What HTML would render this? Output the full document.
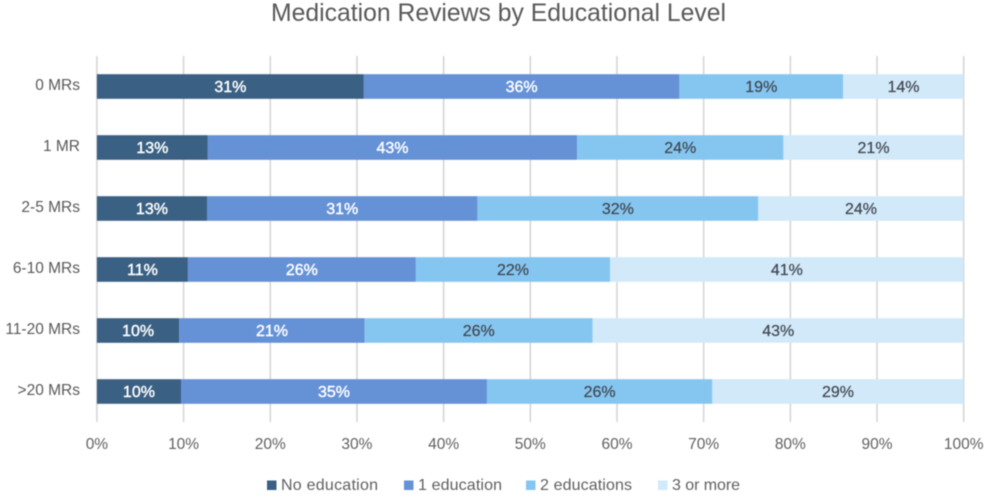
<!DOCTYPE html>
<html lang="en">
<head>
<meta charset="utf-8">
<title>Medication Reviews by Educational Level</title>
<style>
html,body{margin:0;padding:0;background:#fff;}
body{width:989px;height:496px;overflow:hidden;}
svg{display:block;font-family:"Liberation Sans",sans-serif;}
</style>
</head>
<body>
<svg id="chart" width="989" height="496" viewBox="0 0 989 496" xmlns="http://www.w3.org/2000/svg">
<g id="content" style="filter:blur(0.45px)">
<text x="498.5" y="21" text-anchor="middle" font-size="25" fill="#595959" textLength="455" lengthAdjust="spacingAndGlyphs">Medication Reviews by Educational Level</text>
<g id="grid"></g>
<g id="bars"></g>
<g id="ylabels"></g>
<g id="xlabels"></g>
<g id="legend"></g>
</g>
</svg>
<script>
const categories = ['0 MRs', '1 MR', '2-5 MRs', '6-10 MRs', '11-20 MRs', '>20 MRs'];
const seriesNames = ['No education', '1 education', '2 educations', '3 or more'];
const noEducation = [30.8, 12.8, 12.7, 10.5, 9.5, 9.7];
const oneEducation = [36.4, 42.6, 31.2, 26.3, 21.4, 35.3];
const twoEducations = [18.9, 23.8, 32.4, 22.4, 26.3, 26.0];
const threeOrMore = [13.9, 20.8, 23.7, 40.8, 42.8, 29.0];
const xTicks = [0, 10, 20, 30, 40, 50, 60, 70, 80, 90, 100];

const seriesValues = [noEducation, oneEducation, twoEducations, threeOrMore];
const colors = ['#3a6083', '#6591d6', '#85c6f1', '#d2e9fa'];
const labelColors = ['#ffffff', '#ffffff', '#40464f', '#40464f'];
const labelStroke = [0.4, 0.4, 0.2, 0.2];
const legendSwatchX = [267, 404, 526, 658];
const legendTextWidth = [97, 84, 92, 68];
const NS = 'http://www.w3.org/2000/svg';

function xScale(v) { return 96.9 + v * 8.668; }
function yScale(i) { return 86.5 + i * 61; }
function make(tag, attrs, text) {
  const el = document.createElementNS(NS, tag);
  for (const k in attrs) el.setAttribute(k, attrs[k]);
  if (text !== undefined) el.textContent = text;
  return el;
}
const gridG = document.getElementById('grid');
const barsG = document.getElementById('bars');
const yG = document.getElementById('ylabels');
const xG = document.getElementById('xlabels');
const legendG = document.getElementById('legend');

xTicks.forEach(function (t) {
  const line = make('line', { x1: xScale(t), x2: xScale(t), y1: 56, y2: 422, stroke: '#d6d6d6', 'stroke-width': 1.6 });
  
  
  gridG.appendChild(line);
  const label = make('text', { x: xScale(t), y: 449, 'text-anchor': 'middle', 'font-size': 15.5, fill: '#606060' }, t + '%');
  
  
  xG.appendChild(label);
});

categories.forEach(function (cat, i) {
  const label = make('text', { x: 80, y: yScale(i) + 3.5, 'text-anchor': 'end', 'font-size': 15.5, fill: '#595959' }, cat);
  
  
  yG.appendChild(label);
  let cum = 0;
  seriesValues.forEach(function (vals, s) {
    const v = vals[i];
    const x0 = xScale(cum);
    const x1 = xScale(cum + v);
    const rect = make('rect', { x: x0, y: yScale(i) - 12.3, width: x1 - x0, height: 24.6, fill: colors[s] });
    
    
    barsG.appendChild(rect);
    const value = make('text', { x: (x0 + x1) / 2, y: yScale(i) + 5.5, 'text-anchor': 'middle', 'font-size': 16, fill: labelColors[s], stroke: labelColors[s], 'stroke-width': labelStroke[s] }, Math.round(v) + '%');
    
    
    barsG.appendChild(value);
    cum += v;
  });
});

seriesNames.forEach(function (name, s) {
  const swatch = make('rect', { x: legendSwatchX[s], y: 480.5, width: 9.5, height: 9.5, fill: colors[s] });
  
  
  legendG.appendChild(swatch);
  const text = make('text', { x: legendSwatchX[s] + 14, y: 490, 'font-size': 16, fill: '#606060', textLength: legendTextWidth[s], lengthAdjust: 'spacing' }, name);
  
  
  legendG.appendChild(text);
});
</script>
</body>
</html>
